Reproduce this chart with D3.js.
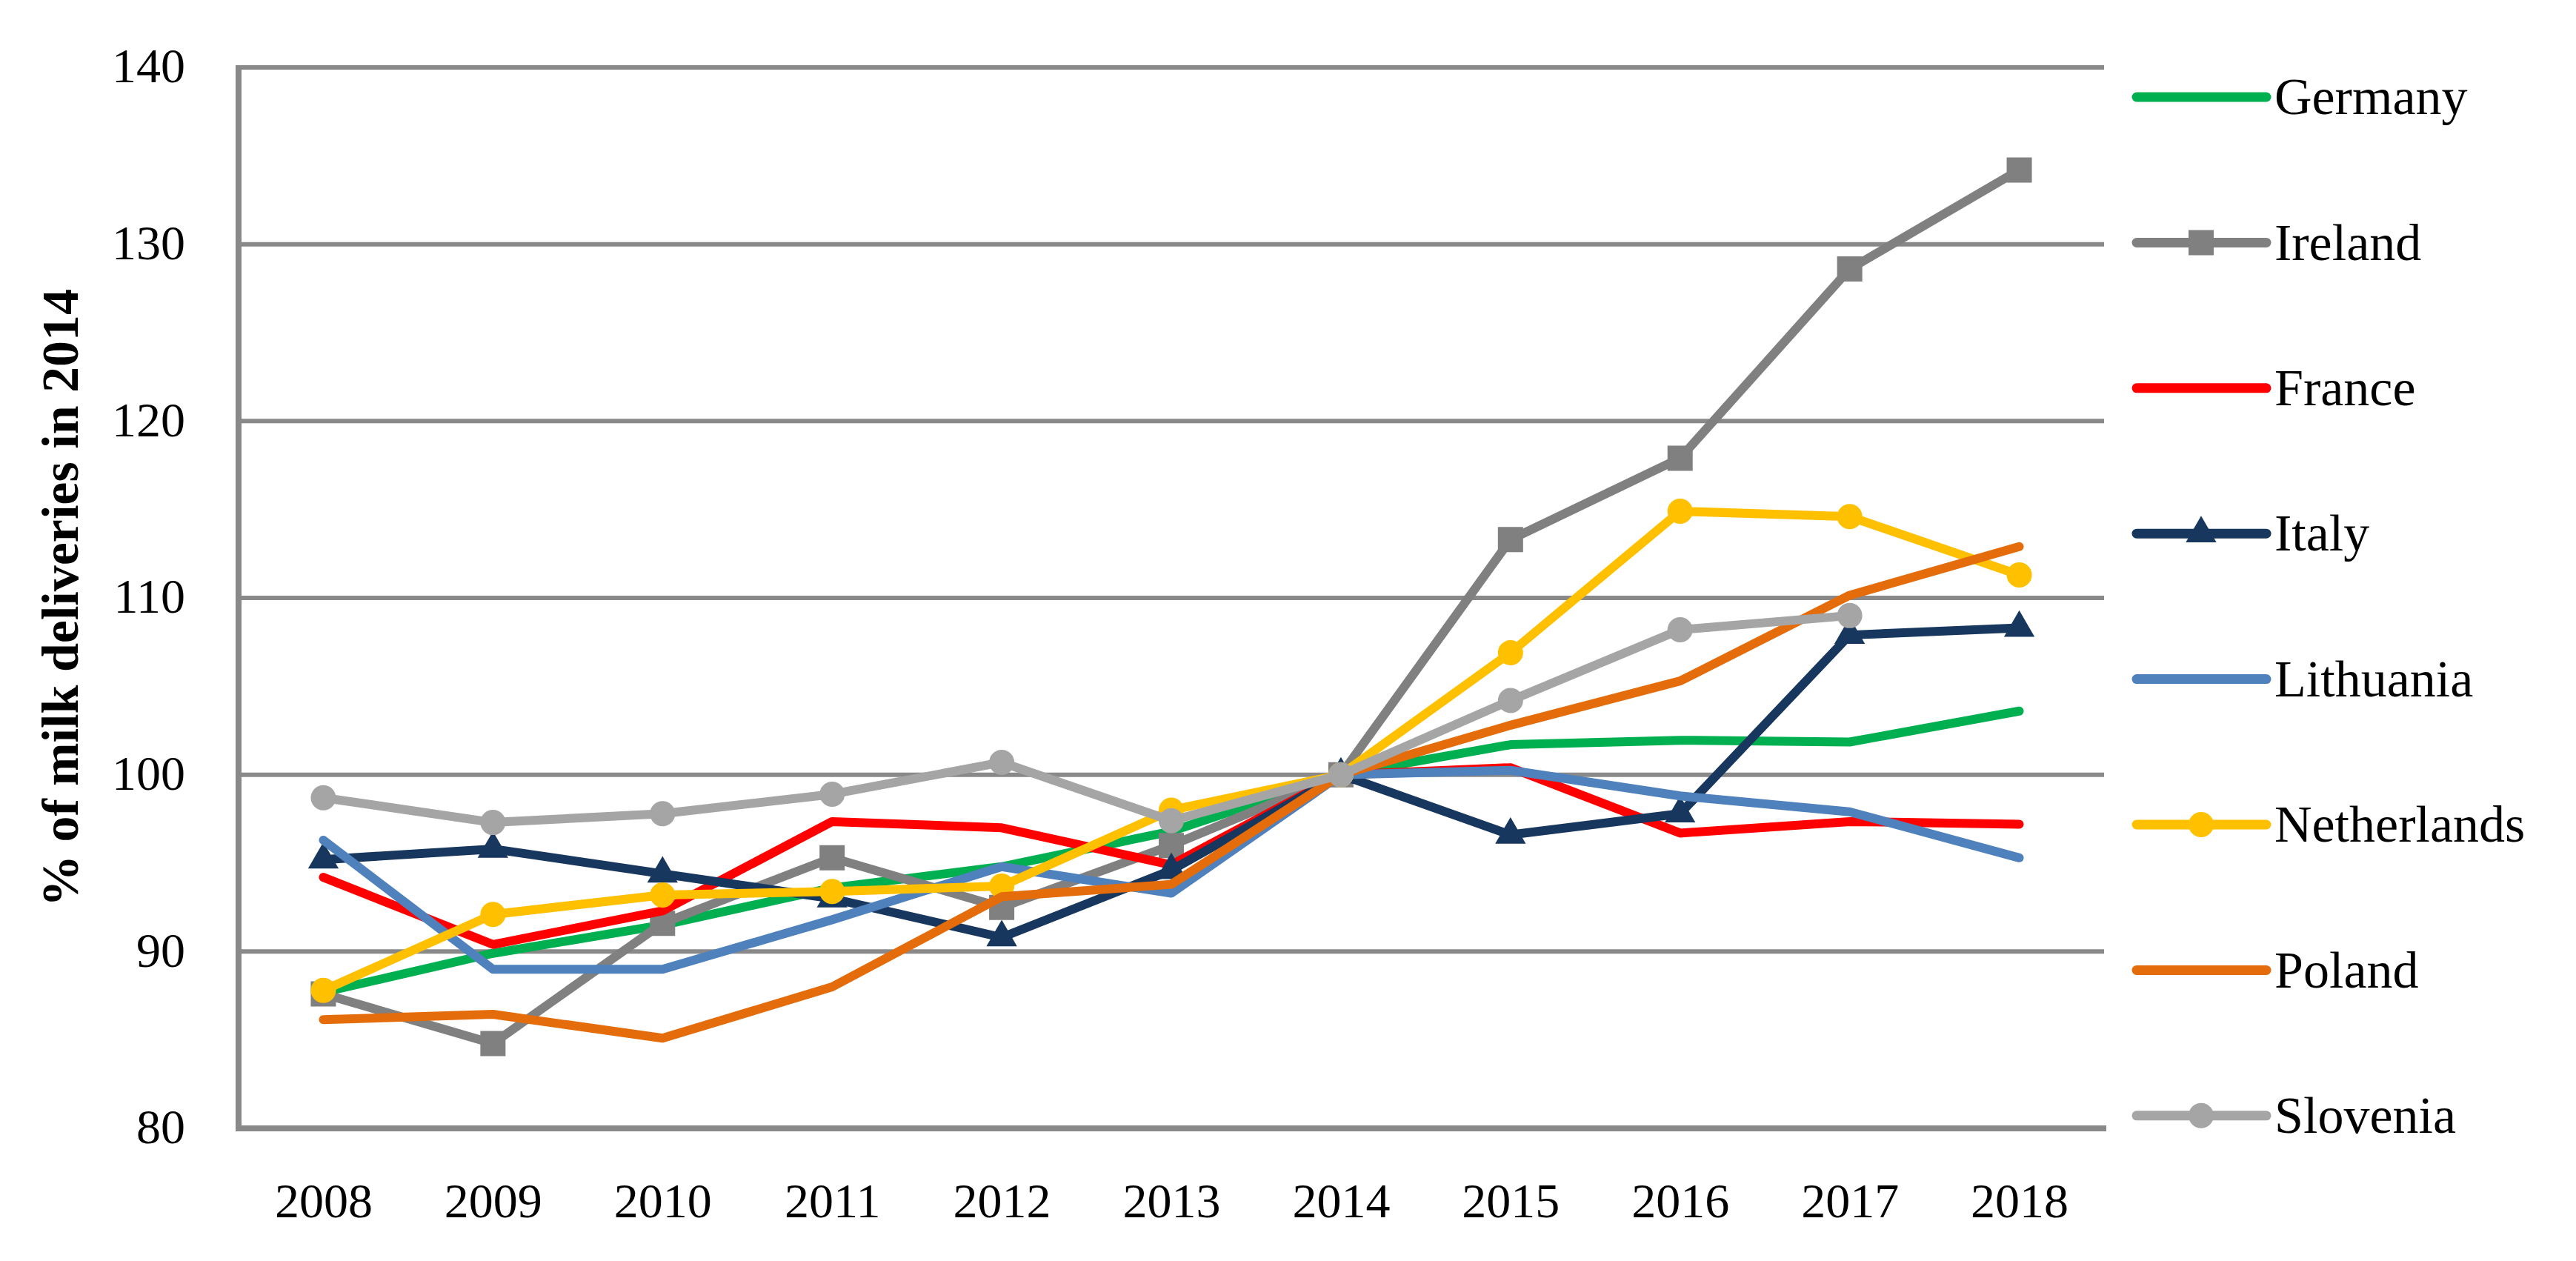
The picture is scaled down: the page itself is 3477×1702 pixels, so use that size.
<!DOCTYPE html>
<html lang="en">
<head>
  <meta charset="UTF-8">
  <title>Milk deliveries index</title>
  <script src="https://d3js.org/d3.v7.min.js"></script>
  <style>
    body {
      margin: 0;
      padding: 0;
      background-color: #fff;
    }
    text {
      font-family: "Liberation Serif", "DejaVu Serif", serif;
      fill: #000;
    }
  </style>
</head>
<body>
  <div id="chart"></div>

  <script>
    // Data
    const years = ['2008', '2009', '2010', '2011', '2012', '2013', '2014', '2015', '2016', '2017', '2018'];
    const yTicks = [80, 90, 100, 110, 120, 130, 140];

    const germany     = [87.7, 89.9, 91.5, 93.6, 94.8, 96.8, 100, 101.7, 101.95, 101.85, 103.6];
    const ireland     = [87.6, 84.8, 91.6, 95.3, 92.5, 96.0, 100, 113.3, 117.9, 128.6, 134.2];
    const france      = [94.2, 90.4, 92.3, 97.35, 97.0, 94.9, 100, 100.4, 96.7, 97.35, 97.2];
    const italy       = [95.2, 95.8, 94.4, 93.0, 90.8, 94.6, 100, 96.6, 97.8, 107.9, 108.3];
    const lithuania   = [96.3, 89.0, 89.0, 91.8, 94.8, 93.3, 100, 100.25, 98.8, 97.9, 95.3];
    const netherlands = [87.8, 92.1, 93.2, 93.4, 93.7, 98.0, 100, 106.9, 114.9, 114.6, 111.3];
    const poland      = [86.15, 86.45, 85.1, 88.0, 93.1, 93.8, 100, 102.8, 105.3, 110.15, 112.9];
    const slovenia    = [98.7, 97.3, 97.8, 98.9, 100.7, 97.4, 100, 104.2, 108.2, 109.0, null];

    const seriesNames   = ['Germany', 'Ireland', 'France', 'Italy', 'Lithuania', 'Netherlands', 'Poland', 'Slovenia'];
    const seriesValues  = [germany, ireland, france, italy, lithuania, netherlands, poland, slovenia];
    const seriesColors  = ['#00b050', '#808080', '#ff0000', '#17375e', '#4f81bd', '#ffc000', '#e46c0a', '#a5a5a5'];
    const seriesMarkers = ['none', 'square', 'none', 'triangle', 'none', 'circle', 'none', 'circle'];

    // Canvas
    const width = 3477;
    const height = 1702;
    const plot = { left: 322, right: 2840, top: 91, bottom: 1523 };
    const gridColor = '#898989';

    const svg = d3.select('#chart')
      .append('svg')
      .attr('width', width)
      .attr('height', height)
      .style('display', 'block');

    svg.append('rect')
      .attr('width', width)
      .attr('height', height)
      .attr('fill', '#fff');

    // Scales
    const x = d3.scalePoint()
      .domain(years)
      .range([plot.left, plot.right])
      .padding(0.5);

    const y = d3.scaleLinear()
      .domain([80, 140])
      .range([plot.bottom, plot.top]);

    // Gridlines
    svg.append('g')
      .selectAll('line')
      .data(yTicks.filter(d => d > 80))
      .enter()
      .append('line')
      .attr('x1', plot.left)
      .attr('x2', plot.right)
      .attr('y1', d => y(d))
      .attr('y2', d => y(d))
      .attr('stroke', gridColor)
      .attr('stroke-width', 6);

    // Y axis labels
    const yAxis = svg.append('g')
      .attr('transform', `translate(${plot.left},0)`)
      .call(d3.axisLeft(y).tickValues(yTicks).tickSize(0).tickPadding(72));
    yAxis.select('.domain').remove();
    yAxis.selectAll('text')
      .attr('font-size', 66)
      .attr('dy', '0.3em')
      .attr('font-family', '"Liberation Serif", serif');

    // X axis labels
    const xAxis = svg.append('g')
      .attr('transform', `translate(0,${plot.bottom})`)
      .call(d3.axisBottom(x).tickSize(0).tickPadding(73));
    xAxis.select('.domain').remove();
    xAxis.selectAll('text')
      .attr('font-size', 66)
      .attr('font-family', '"Liberation Serif", serif');

    // Axis lines
    svg.append('line')
      .attr('x1', plot.left).attr('x2', plot.left)
      .attr('y1', plot.top - 3).attr('y2', plot.bottom + 4)
      .attr('stroke', gridColor).attr('stroke-width', 8);
    svg.append('line')
      .attr('x1', plot.left - 4).attr('x2', plot.right + 3)
      .attr('y1', plot.bottom).attr('y2', plot.bottom)
      .attr('stroke', gridColor).attr('stroke-width', 8);

    // Y axis title
    svg.append('text')
      .attr('transform', `translate(105,${(plot.top + plot.bottom) / 2}) rotate(-90)`)
      .attr('text-anchor', 'middle')
      .attr('font-size', 70)
      .attr('font-weight', 'bold')
      .text('% of milk deliveries in 2014');

    // Marker drawing
    const symbolFor = {
      square: d3.symbol().type(d3.symbolSquare).size(32 * 32),
      circle: d3.symbol().type(d3.symbolCircle).size(Math.PI * 16 * 16),
      triangle: d3.symbol().type(d3.symbolTriangle).size(620)
    };

    function drawMarker(g, kind, cx, cy, color) {
      if (kind === 'none') return;
      g.append('path')
        .attr('d', symbolFor[kind]())
        .attr('transform', `translate(${cx},${cy})`)
        .attr('fill', color)
        .attr('stroke', color)
        .attr('stroke-width', 2);
    }

    const line = d3.line()
      .defined(d => d.v != null)
      .x(d => x(d.year))
      .y(d => y(d.v));

    // Series (drawn in legend order, last on top)
    seriesNames.forEach((name, i) => {
      const pts = years.map((yr, j) => ({ year: yr, v: seriesValues[i][j] }));
      const g = svg.append('g').attr('class', 'series');
      g.append('path')
        .datum(pts)
        .attr('d', line)
        .attr('fill', 'none')
        .attr('stroke', seriesColors[i])
        .attr('stroke-width', 12)
        .attr('stroke-linejoin', 'round')
        .attr('stroke-linecap', 'round');
      pts.filter(p => p.v != null).forEach(p => {
        drawMarker(g, seriesMarkers[i], x(p.year), y(p.v), seriesColors[i]);
      });
    });

    // Legend
    const legend = svg.append('g').attr('transform', 'translate(2884,131)');
    seriesNames.forEach((name, i) => {
      const row = legend.append('g').attr('transform', `translate(0,${i * 196.4})`);
      row.append('line')
        .attr('x1', 0).attr('x2', 175)
        .attr('y1', 0).attr('y2', 0)
        .attr('stroke', seriesColors[i])
        .attr('stroke-width', 13)
        .attr('stroke-linecap', 'round');
      drawMarker(row, seriesMarkers[i], 87, 0, seriesColors[i]);
      row.append('text')
        .attr('x', 186)
        .attr('y', 0)
        .attr('dy', '0.33em')
        .attr('font-size', 70)
        .text(name);
    });
  </script>
</body>
</html>
